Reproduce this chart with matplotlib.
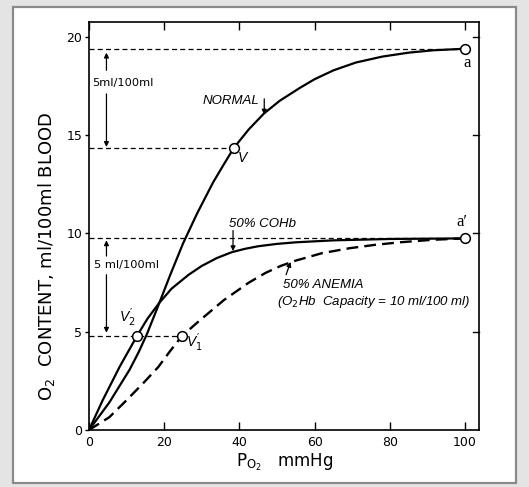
import matplotlib
matplotlib.use('Agg')
import matplotlib.pyplot as plt
from matplotlib.patches import Rectangle

plt.rcParams['font.family'] = ['DejaVu Sans']
plt.rcParams['mathtext.fontset'] = 'custom'
plt.rcParams['mathtext.rm'] = 'DejaVu Sans'
plt.rcParams['mathtext.it'] = 'Liberation Sans:italic'

# values (P_O2 in mmHg, O2 content in ml/100 ml)
normal_po2 = [0, 5.4, 10.8, 13.2, 15.4, 18.3, 21.7, 25, 28.7, 33, 35.8, 38.5, 42.5, 46.5,
              50.7, 56, 60, 65, 71, 78, 85, 91.5, 100]
normal_o2 = [0, 1.4, 3.07, 3.96, 4.88, 6.27, 7.94, 9.49, 11.0, 12.6, 13.5, 14.35, 15.3, 16.1,
             16.75, 17.4, 17.85, 18.3, 18.7, 19.0, 19.2, 19.32, 19.4]

cohb_po2 = [0, 3.6, 8.1, 12.8, 15.5, 18.6, 22, 26.5, 30, 34, 38, 41.5, 45, 50, 55, 65, 80, 100]
cohb_o2 = [0, 1.5, 3.2, 4.8, 5.65, 6.45, 7.2, 7.9, 8.35, 8.75, 9.05, 9.22, 9.35, 9.47, 9.55,
           9.65, 9.72, 9.75]

anemia_po2 = [0, 5.4, 9.9, 14.5, 18.4, 21.5, 24.8, 29.6, 35.8, 42.5, 47, 51, 55, 62, 69.3,
              76, 82.6, 91.5, 100]
anemia_o2 = [0, 0.65, 1.5, 2.4, 3.2, 4.0, 4.8, 5.6, 6.6, 7.5, 8.0, 8.35, 8.62, 9.0, 9.25,
             9.42, 9.55, 9.68, 9.75]

# marked points: a, V, a', V2', V1'
point_names = ['a', 'V', "a'", 'V2', 'V1']
point_po2 = [100, 38.5, 100, 12.8, 24.8]
point_o2 = [19.4, 14.35, 9.75, 4.8, 4.8]

x_ticks = [0, 20, 40, 60, 80, 100]
y_ticks = [0, 5, 10, 15, 20]

fig = plt.figure(figsize=(5.29, 4.87), dpi=100)
fig.patch.set_facecolor('#e4e4e4')
fig.patches.append(Rectangle((13 / 529, 1 - 483 / 487), 503 / 529, 476 / 487,
                             transform=fig.transFigure, facecolor='white',
                             edgecolor='#8a8a8a', linewidth=1.6, zorder=-10))

ax = fig.add_axes([89 / 529, 57 / 487, 390 / 529, 408 / 487])
ax.set_facecolor('none')
ax.set_xlim(0, 103.7)
ax.set_ylim(0, 20.76)

# reference dashed levels
ref = dict(color='black', lw=0.9, ls=(0, (4, 2.6)))
ax.plot([0, point_po2[0]], [point_o2[0]] * 2, **ref)
ax.plot([0, point_po2[1]], [point_o2[1]] * 2, **ref)
ax.plot([0, point_po2[2]], [point_o2[2]] * 2, **ref)
ax.plot([0, point_po2[4]], [point_o2[4]] * 2, **ref)

ax.plot(normal_po2, normal_o2, color='black', lw=1.6, solid_capstyle='round',
        solid_joinstyle='round')
ax.plot(cohb_po2, cohb_o2, color='black', lw=1.6, solid_capstyle='round',
        solid_joinstyle='round')
ax.plot(anemia_po2, anemia_o2, color='black', lw=1.7, ls=(0, (5, 2.6)))

ax.plot(point_po2, point_o2, 'o', ms=7, mfc='white', mec='black', mew=1.1, zorder=5)

# point labels
ax.text(100.4, 18.65, 'a', family='Liberation Serif', fontsize=12, ha='center', va='center')
ax.text(99.1, 10.6, "a\u2032", family='Liberation Serif', fontsize=12, ha='center', va='center')
ax.text(40.8, 13.85, 'V', family='Liberation Sans', style='italic', fontsize=10,
        ha='center', va='center')
ax.text(10.1, 5.7, r"$\mathit{V}_{\mathit{2}}'$", fontsize=10, ha='center', va='center')
ax.text(28.0, 4.45, r"$\mathit{V}_{\mathit{1}}'$", fontsize=10, ha='center', va='center')

# curve labels with arrows
arrow = dict(arrowstyle='-|>', color='black', lw=0.9, mutation_scale=7, shrinkA=0, shrinkB=0)
lab = dict(family='Liberation Sans', style='italic', fontsize=9.5)
ax.text(45.3, 16.6, 'NORMAL', ha='right', va='baseline', **lab)
ax.annotate('', xy=(46.6, 16.05), xytext=(46.6, 16.85), arrowprops=arrow)

ax.text(37.3, 10.5, '50% COHb', ha='left', va='center', **lab)
ax.annotate('', xy=(38.3, 9.1), xytext=(38.3, 10.15), arrowprops=arrow)

ax.text(51.5, 7.36, '50% ANEMIA', ha='left', va='center', **lab)
ax.text(50.1, 6.5, r'(O$_\mathit{2}$Hb  Capacity = 10 ml/100 ml)', ha='left', va='center', **lab)
ax.annotate('', xy=(53.6, 8.55), xytext=(52.4, 7.9), arrowprops=arrow)

# 5 ml/100 ml spans
ax.text(0.8, 17.67, '5ml/100ml', fontsize=8.2, ha='left', va='center')
ax.annotate('', xy=(4.64, 19.2), xytext=(4.64, 18.3), arrowprops=arrow)
ax.annotate('', xy=(4.64, 14.4), xytext=(4.64, 17.1), arrowprops=arrow)

ax.text(1.3, 8.38, '5 ml/100ml', fontsize=8.2, ha='left', va='center')
ax.annotate('', xy=(4.64, 9.65), xytext=(4.64, 8.85), arrowprops=arrow)
ax.annotate('', xy=(4.64, 4.95), xytext=(4.64, 7.9), arrowprops=arrow)

# ticks: outward on the left, inward elsewhere
ax.set_xticks(x_ticks)
ax.set_yticks(y_ticks)
ax.tick_params(axis='x', direction='in', length=6, width=1, top=True, labelsize=9, pad=4)
ax.tick_params(axis='y', direction='out', length=3, width=1, labelsize=9, pad=2)
for y in y_ticks[1:]:
    ax.plot([103.7 - 1.6, 103.7], [y, y], color='black', lw=1, clip_on=False)
for spine in ax.spines.values():
    spine.set_linewidth(1.2)

fig.text(47 / 529, 1 - 256 / 487, r'O$_2$  CONTENT, ml/100ml BLOOD', rotation=90,
         fontsize=13, ha='center', va='center')
fig.text(285 / 529, 1 - 462 / 487, r'P$_{\mathrm{O_2}}$   mmHg', fontsize=12,
         ha='center', va='center')

fig.savefig('out.png', dpi=100, facecolor=fig.get_facecolor())
